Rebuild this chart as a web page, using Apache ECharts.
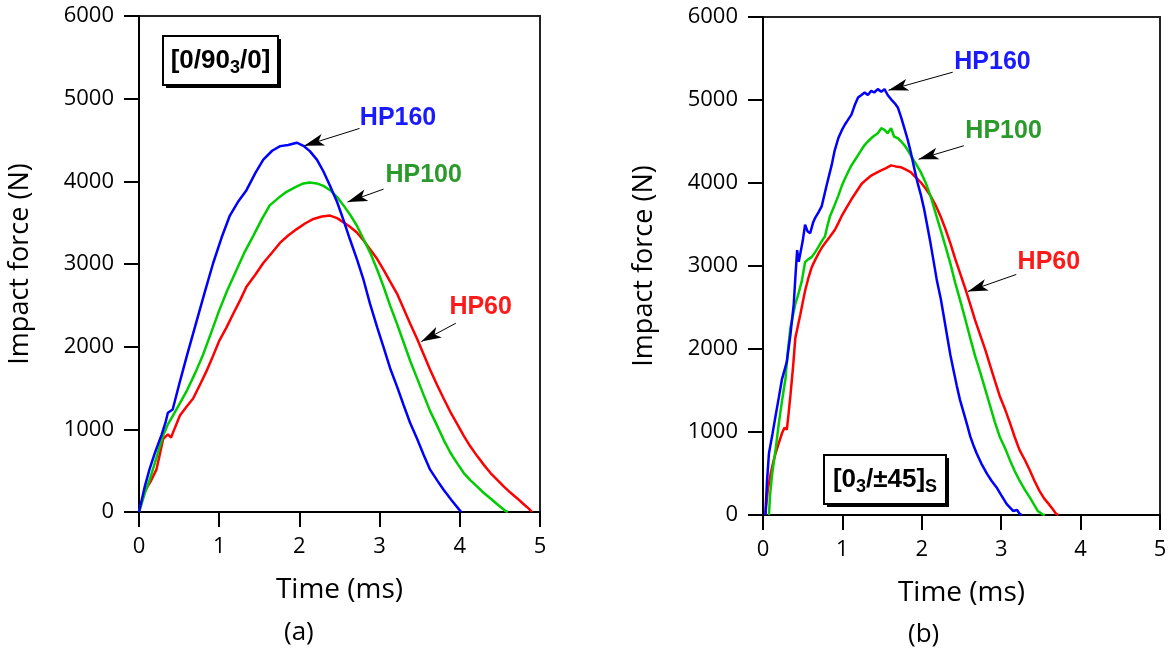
<!DOCTYPE html>
<html>
<head>
<meta charset="utf-8">
<script src="https://cdn.jsdelivr.net/npm/echarts@6/dist/echarts.min.js"></script>
<style>
html,body{margin:0;padding:0;background:#fff;}
#chart{width:1172px;height:656px;}
</style>
</head>
<body>
<div id="chart"></div>
<script>
// ---- data: [time (ms), impact force (N)] ----
const xTicks = [0, 1, 2, 3, 4, 5];
const yTicks = [0, 1000, 2000, 3000, 4000, 5000, 6000];
const seriesNames = ['HP160', 'HP100', 'HP60'];

// (a) [0/90_3/0]
const a_HP160 = [[0,0],[0.07,300],[0.13,512],[0.2,720],[0.28,930],[0.33,1080],[0.36,1200],[0.42,1240],[0.51,1578],[0.6,1900],[0.72,2316],[0.82,2660],[0.925,3012],[1.03,3320],[1.133,3586],[1.24,3760],[1.34,3893],[1.45,4100],[1.55,4262],[1.66,4370],[1.76,4426],[1.86,4440],[1.967,4467],[2.05,4430],[2.13,4365],[2.22,4260],[2.3,4119],[2.38,3950],[2.47,3750],[2.55,3530],[2.63,3299],[2.72,3050],[2.8,2807],[2.88,2520],[2.97,2234],[3.05,1990],[3.13,1742],[3.22,1510],[3.3,1291],[3.38,1080],[3.47,881],[3.55,690],[3.63,512],[3.72,380],[3.8,266],[3.9,140],[4.0,20],[4.02,0]];
const a_HP100 = [[0,0],[0.07,220],[0.133,390],[0.2,600],[0.3,922],[0.36,1060],[0.425,1168],[0.5,1300],[0.59,1455],[0.7,1680],[0.8,1906],[0.9,2170],[1.0,2439],[1.1,2680],[1.217,2930],[1.32,3150],[1.425,3340],[1.53,3540],[1.63,3709],[1.74,3800],[1.84,3873],[1.95,3930],[2.05,3975],[2.13,3985],[2.217,3975],[2.3,3945],[2.383,3893],[2.47,3810],[2.55,3709],[2.63,3600],[2.717,3463],[2.8,3300],[2.883,3135],[2.97,2930],[3.05,2725],[3.13,2500],[3.217,2275],[3.3,2050],[3.383,1824],[3.47,1610],[3.55,1414],[3.63,1220],[3.717,1045],[3.8,870],[3.883,717],[3.97,585],[4.05,471],[4.13,385],[4.217,307],[4.3,230],[4.383,164],[4.47,90],[4.57,12],[4.6,0]];
const a_HP60 = [[0,0],[0.07,246],[0.15,380],[0.217,512],[0.26,700],[0.3,881],[0.36,940],[0.4,900],[0.425,963],[0.51,1168],[0.59,1270],[0.675,1373],[0.76,1540],[0.84,1701],[0.92,1880],[1.0,2070],[1.09,2230],[1.175,2398],[1.26,2560],[1.34,2725],[1.45,2870],[1.55,3012],[1.66,3140],[1.76,3258],[1.86,3345],[1.967,3422],[2.07,3490],[2.175,3545],[2.28,3575],[2.383,3586],[2.47,3555],[2.55,3504],[2.63,3450],[2.717,3381],[2.8,3285],[2.883,3176],[2.97,3060],[3.05,2930],[3.13,2790],[3.217,2643],[3.3,2460],[3.383,2275],[3.47,2090],[3.55,1906],[3.63,1720],[3.717,1537],[3.8,1370],[3.883,1209],[3.97,1060],[4.05,922],[4.13,795],[4.217,676],[4.3,570],[4.383,471],[4.47,385],[4.55,307],[4.63,235],[4.717,164],[4.79,100],[4.86,41],[4.9,0]];

// (b) [0_3/±45]s
const b_HP160 = [[0.03,0],[0.05,400],[0.075,743],[0.12,980],[0.158,1192],[0.2,1420],[0.24,1641],[0.3,1845],[0.345,2171],[0.387,2539],[0.41,2900],[0.43,3192],[0.45,3050],[0.47,3029],[0.5,3300],[0.53,3498],[0.56,3420],[0.594,3396],[0.63,3520],[0.657,3580],[0.7,3650],[0.74,3722],[0.8,3967],[0.864,4212],[0.9,4380],[0.948,4539],[1.0,4650],[1.03,4702],[1.07,4760],[1.114,4824],[1.16,4950],[1.197,5029],[1.24,5060],[1.28,5090],[1.32,5060],[1.363,5110],[1.4,5090],[1.446,5131],[1.49,5100],[1.53,5131],[1.57,5060],[1.613,5008],[1.66,4960],[1.7,4906],[1.74,4790],[1.78,4661],[1.82,4530],[1.86,4376],[1.9,4200],[1.945,4008],[1.99,3850],[2.03,3682],[2.07,3480],[2.11,3273],[2.15,3050],[2.19,2824],[2.24,2600],[2.28,2376],[2.32,2150],[2.36,1927],[2.4,1740],[2.44,1559],[2.48,1390],[2.527,1233],[2.57,1090],[2.61,947],[2.65,840],[2.69,743],[2.75,620],[2.82,498],[2.88,410],[2.94,335],[3.0,240],[3.07,131],[3.15,49],[3.2,60],[3.23,16],[3.26,0]];
const b_HP100 = [[0.075,0],[0.09,250],[0.116,498],[0.16,800],[0.2,1110],[0.24,1380],[0.283,1641],[0.31,1950],[0.345,2253],[0.38,2420],[0.407,2539],[0.45,2680],[0.49,2824],[0.53,3049],[0.57,3080],[0.615,3110],[0.66,3170],[0.7,3233],[0.74,3300],[0.78,3355],[0.81,3480],[0.844,3600],[0.9,3730],[0.948,3845],[0.99,3960],[1.03,4049],[1.07,4130],[1.114,4212],[1.16,4280],[1.197,4335],[1.24,4400],[1.28,4457],[1.32,4500],[1.363,4539],[1.4,4570],[1.446,4600],[1.49,4660],[1.53,4641],[1.57,4600],[1.613,4661],[1.65,4560],[1.7,4539],[1.74,4500],[1.78,4457],[1.82,4400],[1.86,4335],[1.92,4240],[1.987,4131],[2.05,4000],[2.11,3845],[2.17,3650],[2.236,3437],[2.3,3230],[2.36,3029],[2.42,2800],[2.485,2580],[2.55,2350],[2.61,2131],[2.67,1920],[2.735,1722],[2.8,1510],[2.86,1314],[2.92,1120],[2.98,947],[3.05,800],[3.11,661],[3.17,530],[3.23,416],[3.3,300],[3.36,212],[3.41,130],[3.46,49],[3.52,8],[3.55,0]];
const b_HP60 = [[0.03,0],[0.06,300],[0.096,498],[0.13,640],[0.158,743],[0.2,870],[0.24,988],[0.27,1050],[0.3,1029],[0.32,1200],[0.345,1437],[0.38,1800],[0.407,2131],[0.44,2280],[0.47,2416],[0.5,2560],[0.53,2702],[0.57,2850],[0.615,2988],[0.66,3080],[0.7,3151],[0.74,3220],[0.78,3273],[0.84,3350],[0.906,3437],[0.95,3520],[0.99,3600],[1.05,3700],[1.114,3804],[1.18,3900],[1.24,3988],[1.3,4040],[1.363,4090],[1.42,4120],[1.488,4151],[1.55,4180],[1.613,4212],[1.67,4200],[1.736,4190],[1.8,4160],[1.86,4131],[1.92,4070],[1.987,4008],[2.05,3930],[2.11,3845],[2.17,3740],[2.236,3600],[2.3,3440],[2.36,3273],[2.42,3090],[2.485,2906],[2.55,2720],[2.61,2539],[2.67,2350],[2.735,2171],[2.8,1990],[2.86,1804],[2.92,1620],[2.98,1437],[3.05,1270],[3.11,1110],[3.17,940],[3.23,784],[3.3,660],[3.36,539],[3.42,410],[3.48,294],[3.54,200],[3.6,131],[3.65,70],[3.69,16],[3.72,0]];

// annotation anchors in data units: label position, arrow start, arrow tip
const a_labelPos = [[3.23,4770],[3.55,4080],[4.26,2480]];
const a_arrows = [[[2.75,4640],[2.06,4430]],[[3.05,3906],[2.6,3750]],[[3.95,2283],[3.52,2061]]];
const b_labelPos = [[2.89,5457],[3.03,4620],[3.6,3049]];
const b_arrows = [[[2.39,5335],[1.58,5118]],[[2.53,4449],[1.96,4286]],[[3.19,2898],[2.58,2694]]];

// laminate labels: pieces [text, isSubscript]
const layupA = [['[0/90', false], ['3', true], ['/0]', false]];
const layupB = [['[0', false], ['3', true], ['/±45]', false], ['S', true]];

const lineColors = ['#0000ff', '#00cc00', '#ff0000'];
const textColors = ['#1a1aff', '#2a9a2a', '#ff1a1a'];

const chart = echarts.init(document.getElementById('chart'), null, {renderer: 'canvas'});
const axisFont = 'Open Sans';

const tickStyle = {show: true, inside: false, length: 15, interval: 0, lineStyle: {color: '#000', width: 2, opacity: 1}};

function xAx(gi) {
  return {
    gridIndex: gi, type: 'value', min: xTicks[0], max: xTicks[xTicks.length - 1], interval: xTicks[1] - xTicks[0],
    axisLine: {show: true, onZero: false, lineStyle: {color: '#000', width: 2}},
    axisTick: tickStyle,
    axisLabel: {fontSize: 22, color: '#000', margin: 24, fontFamily: axisFont, formatter: v => String(v)},
    splitLine: {show: false},
    name: 'Time (ms)', nameLocation: 'middle', nameGap: 64,
    nameTextStyle: {fontSize: 28, color: '#000', fontFamily: axisFont}
  };
}
function yAx(gi) {
  return {
    gridIndex: gi, type: 'value', min: yTicks[0], max: yTicks[yTicks.length - 1], interval: yTicks[1] - yTicks[0],
    axisLine: {show: true, onZero: false, lineStyle: {color: '#000', width: 2}},
    axisTick: tickStyle,
    axisLabel: {fontSize: 22, color: '#000', margin: 25, fontFamily: axisFont, formatter: v => String(v)},
    splitLine: {show: false},
    name: 'Impact force (N)', nameLocation: 'middle', nameGap: 105,
    nameTextStyle: {fontSize: 27, color: '#000', fontFamily: axisFont}
  };
}

function makeSeries(gi, datasets, labelPos, arrows) {
  return datasets.map((d, i) => ({
    type: 'line', xAxisIndex: gi, yAxisIndex: gi, data: d,
    showSymbol: false, symbol: 'none', smooth: false, z: 5 - i,
    lineStyle: {color: lineColors[i], width: 2.5},
    markPoint: {
      silent: true, symbol: 'circle', symbolSize: 1,
      itemStyle: {color: 'rgba(0,0,0,0)'},
      label: {show: true, position: 'inside', formatter: seriesNames[i],
        color: textColors[i], fontSize: 25, fontWeight: 'bold', fontFamily: 'Liberation Sans'},
      data: [{coord: labelPos[i]}]
    },
    markLine: {
      silent: true, symbol: ['none', 'arrow'], symbolSize: [9, 20],
      lineStyle: {color: '#000', width: 1, type: 'solid'},
      label: {show: false},
      data: [[{coord: arrows[i][0]}, {coord: arrows[i][1]}]]
    }
  }));
}

// measure text to lay out subscript pieces
const mctx = document.createElement('canvas').getContext('2d');
function tw(t, size) { mctx.font = 'bold ' + size + 'px "Liberation Sans"'; return mctx.measureText(t).width; }
const MAIN = 26, SUB = 18;
function boxLabel(x, y, w, h, pieces) {
  const total = pieces.reduce((s, p) => s + tw(p[0], p[1] ? SUB : MAIN), 0);
  let cx = (w - total) / 2;
  const midY = h / 2;
  const texts = pieces.map(p => {
    const size = p[1] ? SUB : MAIN;
    const el = {type: 'text', x: cx, y: p[1] ? midY + 8 : midY, z: 10,
      style: {text: p[0], fontSize: size, fontWeight: 'bold', fontFamily: 'Liberation Sans', fill: '#000',
        align: 'left', verticalAlign: 'middle'}};
    cx += tw(p[0], size);
    return el;
  });
  return {
    type: 'group', left: x, top: y,
    children: [
      {type: 'rect', z: 1, shape: {x: 3, y: 3, width: w, height: h}, style: {fill: '#000'}},
      {type: 'rect', z: 2, shape: {x: 0, y: 0, width: w, height: h}, style: {fill: '#fff', stroke: '#000', lineWidth: 2}}
    ].concat(texts)
  };
}

chart.setOption({
  backgroundColor: '#fff',
  animation: false,
  grid: [
    {left: 139, top: 16, width: 401, height: 496, show: true, borderColor: '#222', borderWidth: 2, backgroundColor: 'transparent'},
    {left: 763, top: 17, width: 397, height: 498, show: true, borderColor: '#222', borderWidth: 2, backgroundColor: 'transparent'}
  ],
  xAxis: [xAx(0), xAx(1)],
  yAxis: [yAx(0), yAx(1)],
  series: [].concat(
    makeSeries(0, [a_HP160, a_HP100, a_HP60], a_labelPos, a_arrows),
    makeSeries(1, [b_HP160, b_HP100, b_HP60], b_labelPos, b_arrows)
  ),
  graphic: [
    boxLabel(162, 35, 115, 49, layupA),
    boxLabel(823, 454, 122, 49, layupB),
    {type: 'text', left: 284, top: 620, style: {text: '(a)', fontSize: 26, fontFamily: axisFont, fill: '#000'}},
    {type: 'text', left: 908, top: 622, style: {text: '(b)', fontSize: 26, fontFamily: axisFont, fill: '#000'}}
  ]
});
</script>
</body>
</html>
